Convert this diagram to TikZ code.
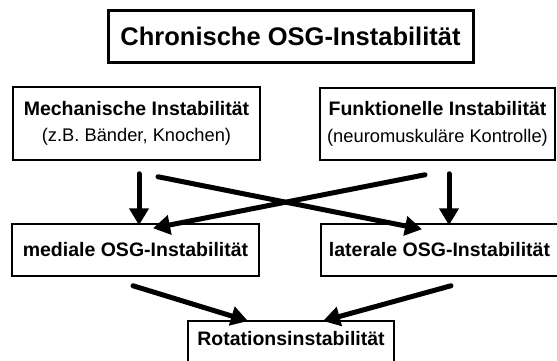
\documentclass[tikz,border=0pt]{standalone}
\usepackage{fontspec}
\setmainfont{Liberation Sans}
\usetikzlibrary{arrows.meta}

\begin{document}
\begin{tikzpicture}[x=1pt,y=-1pt,
    box/.style={draw, line width=1.5pt, inner sep=0pt, align=center},
    big/.style={font=\fontsize{19.5}{23}\selectfont\bfseries},
    arr/.style={line width=5pt, line cap=round, -{Triangle[length=17pt,width=19pt]}}]
    \useasboundingbox (0,0) rectangle (557,360);

    \node[box, line width=3pt, minimum width=365pt, minimum height=52pt, font=\fontsize{25.5}{30}\selectfont\bfseries] (chron) at (290.5,36.5) {Chronische OSG-Instabilität};

    \node[box, minimum width=247pt, minimum height=73pt] (mech) at (136.5,123.5) {{\fontsize{19.5}{23}\selectfont\bfseries Mechanische Instabilität}\\[12pt]{\fontsize{18.3}{23}\selectfont (z.B. Bänder, Knochen)}};
    \node[box, minimum width=235pt, minimum height=72pt] (funk) at (437.5,124) {{\fontsize{19.5}{23}\selectfont\bfseries Funktionelle Instabilität}\\[12pt]{\fontsize{18.3}{23}\selectfont (neuromuskuläre Kontrolle)}};

    \node[box, big, minimum width=247pt, minimum height=52pt] (medial) at (135.5,250) {mediale OSG-Instabilität};
    \node[box, big, minimum width=237pt, minimum height=52pt] (lateral) at (439.5,250) {laterale OSG-Instabilität};

    \node[box, big, anchor=north, minimum width=206pt, inner ysep=0pt, text height=25pt, text depth=35pt] (rot) at (291,320) {Rotationsinstabilität};

    \draw[arr] ([xshift=2.5pt,yshift=-13pt]mech.south) -- ([xshift=3.5pt,yshift=-2pt]medial.north);
    \draw[arr] ([xshift=11.5pt,yshift=-13pt]funk.south) -- ([xshift=9.5pt,yshift=-2pt]lateral.north);
    \draw[arr] ([xshift=21.5pt,yshift=-16pt]mech.south) -- ([xshift=-17.5pt,yshift=-6pt]lateral.north);
    \draw[arr] ([xshift=-12.5pt,yshift=-14pt]funk.south) -- ([xshift=17.5pt,yshift=-5pt]medial.north);
    \draw[arr] ([xshift=-2.5pt,yshift=-9pt]medial.south) -- ([xshift=-43pt,yshift=-1pt]rot.north);
    \draw[arr] ([xshift=11.5pt,yshift=-9pt]lateral.south) -- ([xshift=32pt,yshift=-1pt]rot.north);
\end{tikzpicture}
\end{document}
